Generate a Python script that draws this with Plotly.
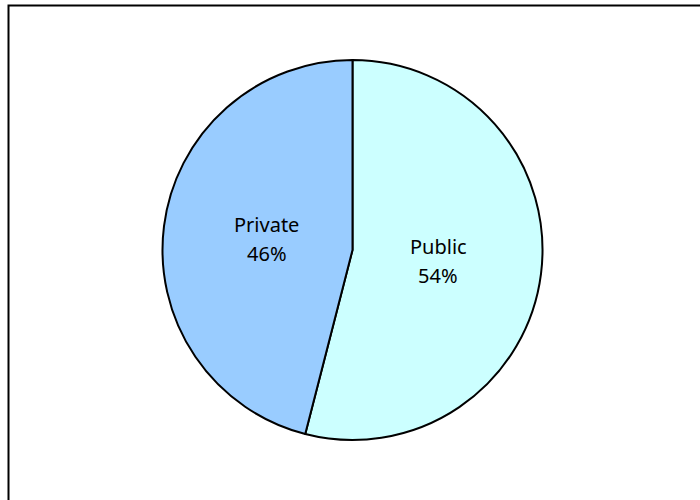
import math
import plotly.graph_objects as go

labels = ["Public", "Private"]
values = [54, 46]
colors = ["#CCFFFF", "#99CCFF"]

W, H = 700, 500
cx, cy, r = 352.5, 250, 190
label_frac = 0.455
line_gap = 14.5
font = dict(family="Noto Sans", size=20, color="black")

fig = go.Figure(go.Pie(
    labels=labels,
    values=values,
    sort=False,
    direction="clockwise",
    rotation=0,
    marker=dict(colors=colors, line=dict(color="black", width=2)),
    textinfo="none",
    hoverinfo="label+percent",
    showlegend=False,
    domain=dict(x=[(cx - r) / W, (cx + r) / W], y=[(H - cy - r) / H, (H - cy + r) / H]),
))

# slice labels placed at each slice's mid-angle (clockwise from 12 o'clock)
total = sum(values)
start = 0.0
for lab, v in zip(labels, values):
    frac = v / total
    mid = (start + frac / 2) * 2 * math.pi
    start += frac
    px = cx + label_frac * r * math.sin(mid)
    py = cy - label_frac * r * math.cos(mid)
    for txt, dy in ((lab, -line_gap), (f"{round(frac * 100)}%", line_gap)):
        fig.add_annotation(
            x=px / W, y=1 - (py + dy) / H, xref="paper", yref="paper",
            text=txt, showarrow=False, xanchor="center", yanchor="middle",
            font=font,
        )

fig.add_shape(type="rect", xref="paper", yref="paper",
              x0=8.5 / W, x1=1.05, y0=-0.05, y1=1 - 5.5 / H,
              line=dict(color="black", width=2), fillcolor="rgba(0,0,0,0)")

fig.update_layout(
    width=W, height=H,
    margin=dict(l=0, r=0, t=0, b=0),
    paper_bgcolor="white",
    plot_bgcolor="white",
)

fig.write_html("out.html", config={"displayModeBar": False},
               post_script="document.body.style.margin='0px';")
